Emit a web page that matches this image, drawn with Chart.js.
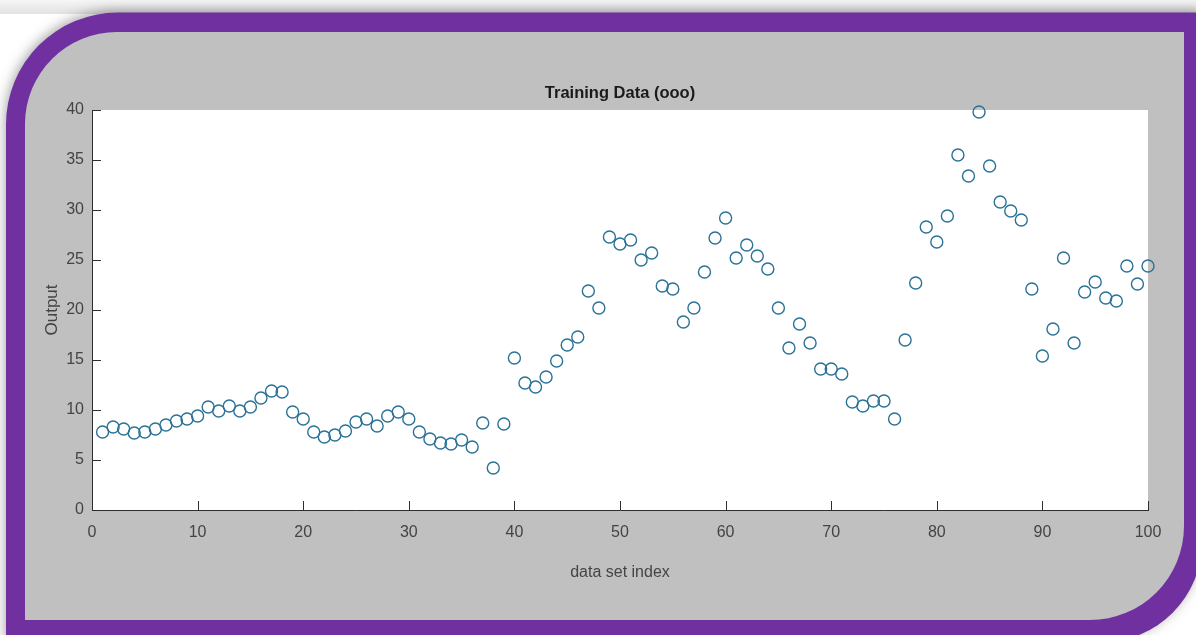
<!DOCTYPE html>
<html>
<head>
<meta charset="utf-8">
<script src="https://cdn.jsdelivr.net/npm/chart.js@4.4.1/dist/chart.umd.min.js"></script>
<style>
  html, body { margin: 0; padding: 0; background: #ffffff; }
  #wrap { position: absolute; left: 0; top: 0; width: 1196px; height: 635px; }
</style>
</head>
<body>
<div id="wrap"><canvas id="c"></canvas></div>
<script>
const chartTitle = 'Training Data (ooo)';
const xAxisTitle = 'data set index';
const yAxisTitle = 'Output';

const dataSetIndex = [
  1, 2, 3, 4, 5, 6, 7, 8, 9, 10,
  11, 12, 13, 14, 15, 16, 17, 18, 19, 20,
  21, 22, 23, 24, 25, 26, 27, 28, 29, 30,
  31, 32, 33, 34, 35, 36, 37, 38, 39, 40,
  41, 42, 43, 44, 45, 46, 47, 48, 49, 50,
  51, 52, 53, 54, 55, 56, 57, 58, 59, 60,
  61, 62, 63, 64, 65, 66, 67, 68, 69, 70,
  71, 72, 73, 74, 75, 76, 77, 78, 79, 80,
  81, 82, 83, 84, 85, 86, 87, 88, 89, 90,
  91, 92, 93, 94, 95, 96, 97, 98, 99, 100
];

const outputValues = [
  7.8, 8.3, 8.1, 7.7, 7.8, 8.1, 8.5, 8.9, 9.1, 9.4,
  10.3, 9.9, 10.4, 9.9, 10.3, 11.2, 11.9, 11.8, 9.8, 9.1,
  7.8, 7.3, 7.5, 7.9, 8.8, 9.1, 8.4, 9.4, 9.8, 9.1,
  7.8, 7.1, 6.7, 6.6, 7.0, 6.3, 8.7, 4.2, 8.6, 15.2,
  12.7, 12.3, 13.3, 14.9, 16.5, 17.3, 21.9, 20.2, 27.3, 26.6,
  27.0, 25.0, 25.7, 22.4, 22.1, 18.8, 20.2, 23.8, 27.2, 29.2,
  25.2, 26.5, 25.4, 24.1, 20.2, 16.2, 18.6, 16.7, 14.1, 14.1,
  13.6, 10.8, 10.4, 10.9, 10.9, 9.1, 17.0, 22.7, 28.3, 26.8,
  29.4, 35.5, 33.4, 39.8, 34.4, 30.8, 29.9, 29.0, 22.1, 15.4,
  18.1, 25.2, 16.7, 21.8, 22.8, 21.2, 20.9, 24.4, 22.6, 24.4
];

const xTicks = [0, 10, 20, 30, 40, 50, 60, 70, 80, 90, 100];
const yTicks = [0, 5, 10, 15, 20, 25, 30, 35, 40];

const points = dataSetIndex.map((x, i) => ({ x: x, y: outputValues[i] }));

function roundedShape(ctx, x0, y0, x1, y1, rTL, rBR) {
  ctx.beginPath();
  ctx.moveTo(x0 + rTL, y0);
  ctx.lineTo(x1, y0);
  ctx.lineTo(x1, y1 - rBR);
  ctx.arcTo(x1, y1, x1 - rBR, y1, rBR);
  ctx.lineTo(x0, y1);
  ctx.lineTo(x0, y0 + rTL);
  ctx.arcTo(x0, y0, x0 + rTL, y0, rTL);
  ctx.closePath();
}

const framePlugin = {
  id: 'frame',
  beforeDraw(chart) {
    const ctx = chart.ctx;
    const W = chart.width, H = chart.height;
    ctx.save();
    ctx.fillStyle = '#ffffff';
    ctx.fillRect(0, 0, W, H);
    const g = ctx.createLinearGradient(0, 0, 0, 14);
    g.addColorStop(0, '#f6f6f6');
    g.addColorStop(1, '#e2e2e2');
    ctx.fillStyle = g;
    ctx.fillRect(0, 0, W, 14);
    // purple frame with soft shadow
    ctx.shadowColor = 'rgba(0,0,0,0.35)';
    ctx.shadowBlur = 12;
    ctx.shadowOffsetX = -1;
    ctx.shadowOffsetY = -2;
    ctx.fillStyle = '#7030a0';
    roundedShape(ctx, 6, 12.5, 1202, 642, 112, 100);
    ctx.fill();
    ctx.shadowColor = 'transparent';
    ctx.shadowBlur = 0;
    ctx.shadowOffsetX = 0;
    ctx.shadowOffsetY = 0;
    // gray inner panel
    ctx.fillStyle = '#c0c0c0';
    roundedShape(ctx, 25, 32, 1184, 620, 92, 94);
    ctx.fill();
    // white plot area
    const a = chart.chartArea;
    ctx.fillStyle = '#ffffff';
    ctx.fillRect(a.left, a.top, a.right - a.left, a.bottom - a.top);
    ctx.restore();
  },
  afterDraw(chart) {
    const ctx = chart.ctx;
    const a = chart.chartArea;
    const xs = chart.scales.x, ys = chart.scales.y;
    ctx.save();
    ctx.strokeStyle = '#2e2e2e';
    ctx.lineWidth = 1;
    ctx.beginPath();
    xTicks.forEach(v => {
      const px = Math.round(xs.getPixelForValue(v)) + 0.5;
      ctx.moveTo(px, a.bottom);
      ctx.lineTo(px, a.bottom - 9);
    });
    yTicks.forEach(v => {
      const py = Math.round(ys.getPixelForValue(v)) + 0.5;
      ctx.moveTo(a.left, py);
      ctx.lineTo(a.left + 9, py);
    });
    ctx.stroke();
    // title
    ctx.fillStyle = '#1a1a1a';
    ctx.font = 'bold 16.5px "Liberation Sans", Arial, sans-serif';
    ctx.textAlign = 'center';
    ctx.textBaseline = 'middle';
    ctx.fillText(chartTitle, (a.left + a.right) / 2, a.top - 17);
    ctx.restore();
  }
};

new Chart(document.getElementById('c'), {
  type: 'scatter',
  data: {
    datasets: [{
      label: 'Training Data',
      data: points,
      showLine: false,
      clip: false,
      pointStyle: 'circle',
      pointRadius: 6,
      pointHoverRadius: 6,
      pointBorderWidth: 1.4,
      borderColor: '#2a7296',
      backgroundColor: 'rgba(0,0,0,0)'
    }]
  },
  options: {
    responsive: true,
    maintainAspectRatio: false,
    animation: false,
    events: [],
    layout: { padding: { left: 32, right: 48, top: 110, bottom: 53 } },
    plugins: {
      legend: { display: false },
      tooltip: { enabled: false },
      title: { display: false }
    },
    scales: {
      x: {
        type: 'linear',
        min: 0,
        max: 100,
        afterFit(s) { s.height = 72; },
        afterBuildTicks(s) { s.ticks = xTicks.map(v => ({ value: v })); },
        grid: { display: true, drawOnChartArea: false, drawTicks: false },
        border: { display: true, color: '#2e2e2e', width: 1 },
        ticks: {
          padding: 13,
          color: '#444444',
          font: { family: '"Liberation Sans", Arial, sans-serif', size: 16 },
          maxRotation: 0
        },
        title: {
          display: true,
          text: xAxisTitle,
          color: '#444444',
          font: { family: '"Liberation Sans", Arial, sans-serif', size: 16 },
          padding: { top: 0, bottom: 0 }
        }
      },
      y: {
        type: 'linear',
        min: 0,
        max: 40,
        afterFit(s) { s.width = 60; },
        afterBuildTicks(s) { s.ticks = yTicks.map(v => ({ value: v })); },
        grid: { display: true, drawOnChartArea: false, drawTicks: false },
        border: { display: true, color: '#2e2e2e', width: 1 },
        ticks: {
          padding: 8,
          color: '#444444',
          font: { family: '"Liberation Sans", Arial, sans-serif', size: 16 }
        },
        title: {
          display: true,
          text: yAxisTitle,
          color: '#444444',
          font: { family: '"Liberation Sans", Arial, sans-serif', size: 17 },
          padding: { top: 10, bottom: 0 }
        }
      }
    }
  },
  plugins: [framePlugin]
});
</script>
</body>
</html>
